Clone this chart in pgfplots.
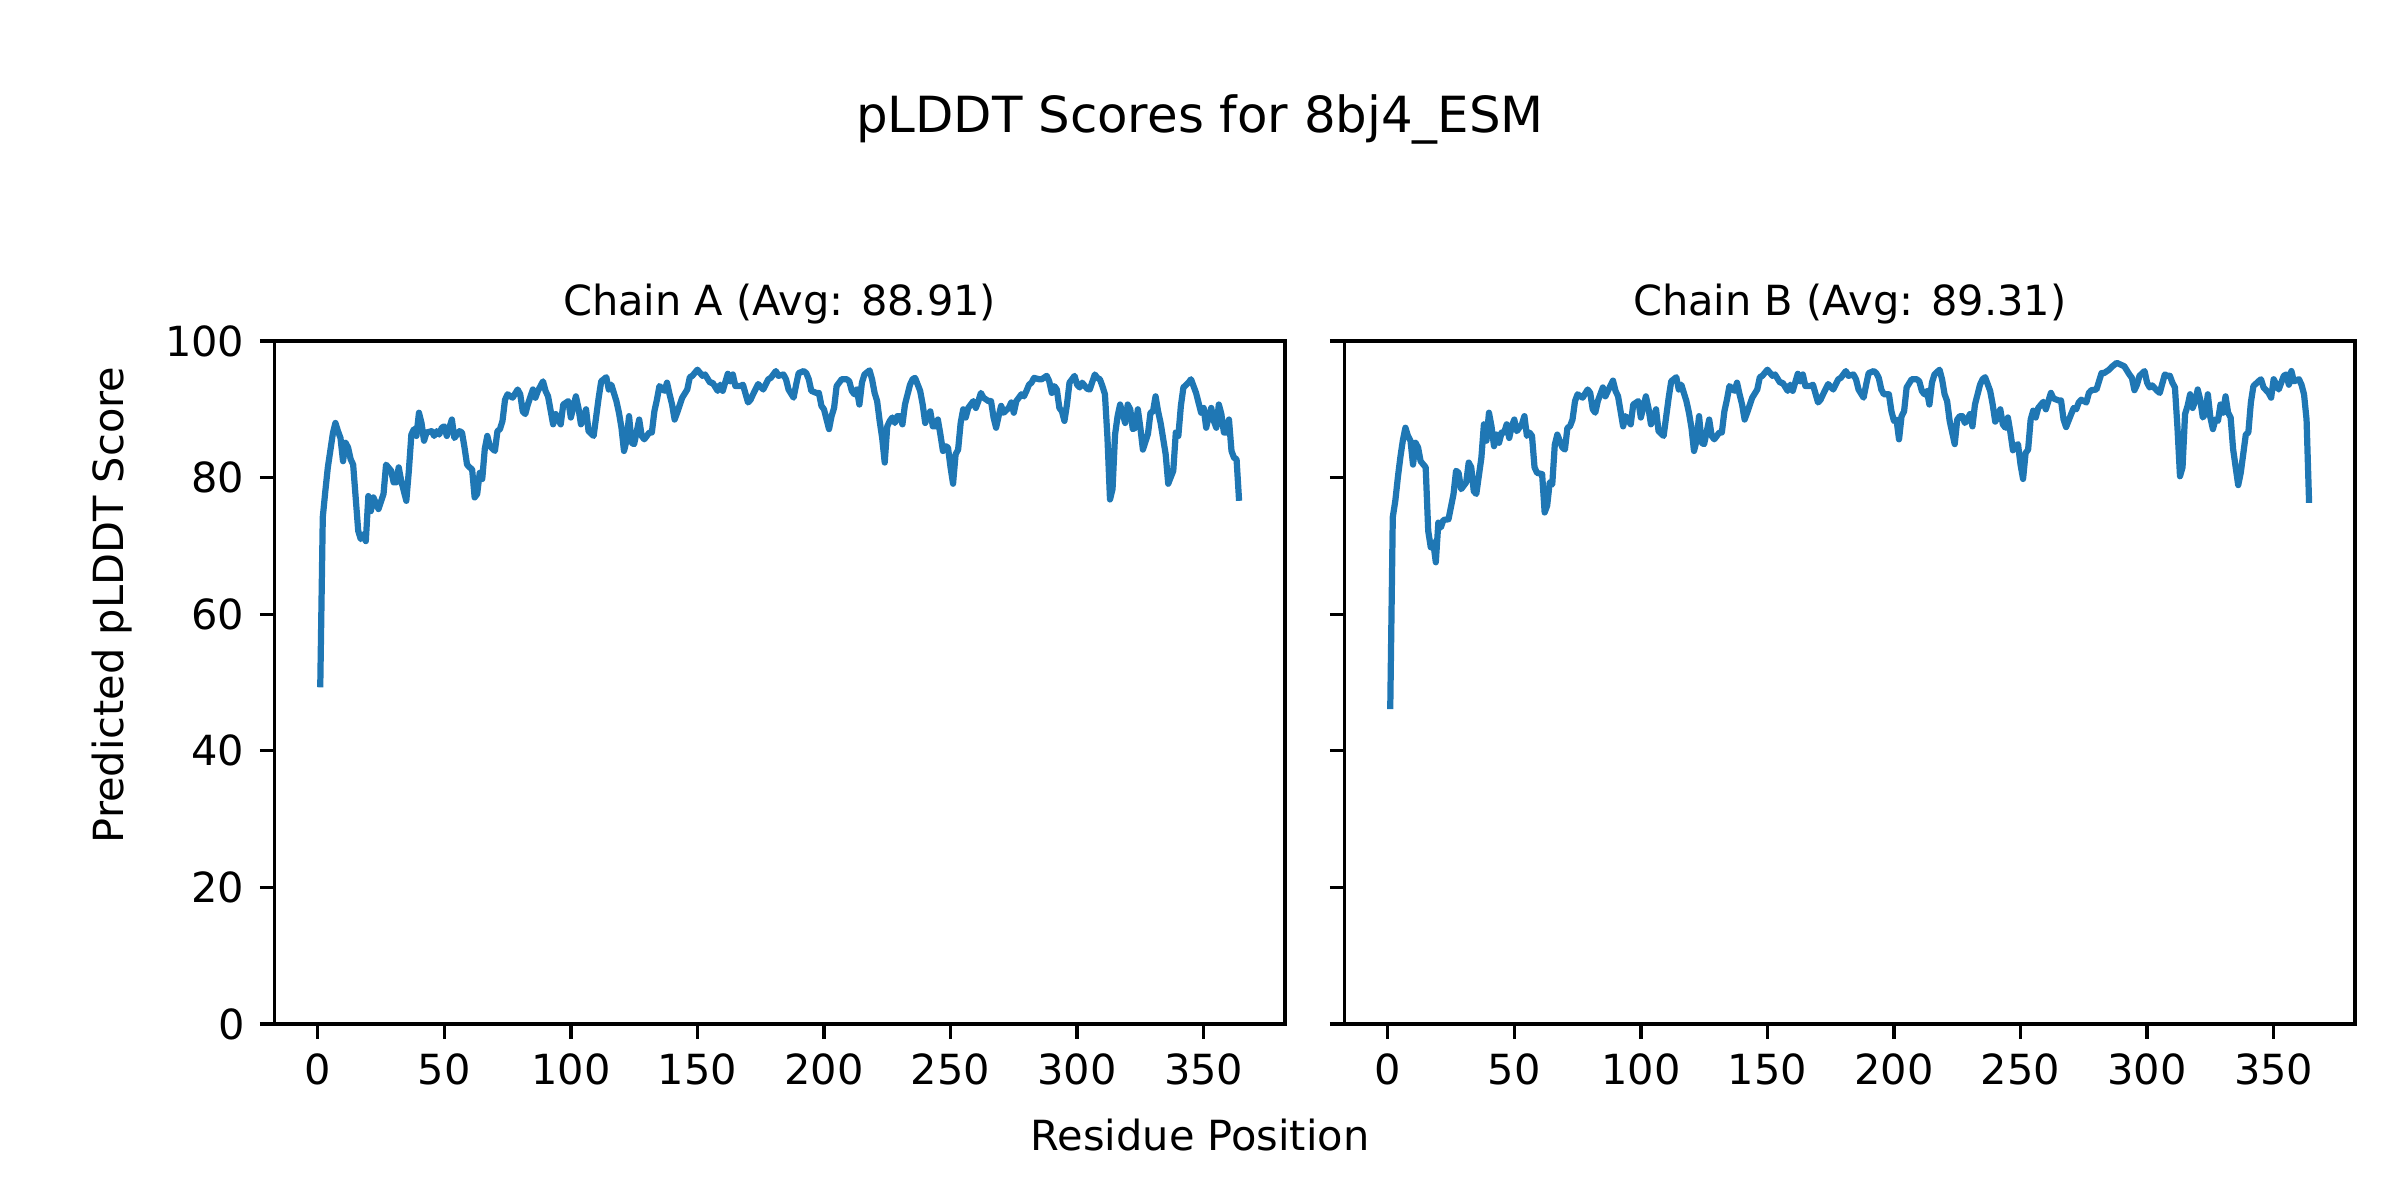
\documentclass[border=0pt]{standalone}
\usepackage{fontspec}
\setmainfont{DejaVu Sans}
\usepackage{pgfplots}
\pgfplotsset{compat=1.18}
\definecolor{mplblue}{HTML}{1F77B4}
\pgfplotsset{
  myaxis/.style={
    scale only axis, width=243.48pt, height=164.53pt,
    xmin=-17.15, xmax=382.15, ymin=0, ymax=100,
    xtick={0,50,...,350}, ytick={0,20,...,100},
    tick align=outside, major tick length=3.5pt,
    xtick pos=bottom, ytick pos=left,
    axis line style={line width=0.8pt},
    major tick style={black, line width=0.8pt},
    tick label style={font=\fontsize{10}{12}\selectfont, inner sep=0pt},
    /pgf/number format/assume math mode=true,
    xticklabel style={yshift=-3.5pt},
    yticklabel style={xshift=-3.5pt},
    anchor=south west,
  },
  myline/.style={color=mplblue, line width=1.5pt, line join=round, mark=none},
}
\begin{document}
\begin{tikzpicture}[x=0.2409pt,y=0.2409pt]
\path[use as bounding box] (0pt,0pt) rectangle (578.16pt,289.08pt);
\begin{axis}[myaxis, at={(66.08pt,42.40pt)}]
\addplot[myline] coordinates {
(1,49.3)(2,74.2)(3,78.0)(4,81.5)(5,84.0)(6,86.5)(7,88.0)(8,86.8)(9,85.8)(10,82.4)(11,85.1)(12,84.4)(13,82.7)(14,81.9)(16,72.2)(17,71.0)(18,71.7)(19,70.7)(20,77.3)(21,75.1)(22,77.1)(24,75.4)(26,77.6)(27,81.9)(29,81.0)(30,79.3)(31,79.3)(32,81.5)(33,79.5)(35,76.6)(36,81.0)(37,86.3)(38,87.1)(39,86.1)(40,89.5)(41,88.0)(42,85.4)(43,86.6)(45,86.8)(46,86.1)(47,86.8)(48,86.3)(49,87.3)(50,87.5)(51,86.1)(53,88.5)(54,85.8)(56,86.8)(57,86.6)(58,84.4)(59,81.9)(60,81.5)(61,81.2)(62,77.1)(63,77.6)(64,80.7)(65,79.8)(66,84.2)(67,86.1)(68,84.6)(70,83.9)(71,86.8)(72,87.1)(73,88.3)(74,91.4)(75,92.2)(77,91.7)(79,92.9)(80,92.2)
(81,89.7)(82,89.3)(83,90.7)(85,92.9)(86,91.7)(87,92.7)(89,94.1)(90,92.7)(91,91.9)(93,87.8)(94,89.3)(96,87.8)(97,90.7)(99,91.2)(100,88.8)(102,91.9)(103,90.2)(104,87.8)(106,90.0)(107,86.8)(109,86.1)(111,91.7)(112,94.1)(114,94.7)(115,92.9)(116,93.6)(118,91.2)(119,89.5)(120,87.3)(121,83.9)(122,85.4)(123,89.0)(124,85.1)(125,84.9)(127,88.5)(128,86.1)(129,85.6)(131,86.6)(132,86.6)(133,89.7)(134,91.4)(135,93.4)(137,92.7)(138,93.9)(139,92.2)(140,90.7)(141,88.5)(142,89.5)(144,91.7)(146,92.9)(147,94.7)(148,94.9)(150,95.8)(152,94.9)(153,95.1)(155,93.9)(156,93.9)(158,92.7)(159,93.6)(160,92.7)(162,95.2)(163,94.1)(164,95.1)(165,93.4)(167,93.4)(168,93.6)(170,91.0)(171,91.4)(172,92.2)(174,93.7)(176,92.9)(178,94.4)(179,94.6)(181,95.6)(182,94.9)(184,95.1)(185,94.4)(186,92.9)(188,91.7)(189,93.6)(190,95.3)(192,95.6)(193,95.3)(194,94.4)(195,92.7)(197,92.4)(198,92.4)(199,90.5)(200,90.0)(202,87.1)(203,89.0)(204,90.2)(205,93.4)(207,94.4)(209,94.4)(210,94.1)(211,92.7)(212,92.2)(213,92.9)(214,90.7)(215,93.9)(216,95.1)(218,95.7)(219,94.4)
(220,92.4)(221,91.2)(222,88.3)(223,85.8)(224,82.2)(225,87.5)(226,88.3)(227,88.8)(228,88.0)(229,89.0)(230,89.0)(231,87.8)(232,90.7)(234,93.6)(235,94.4)(236,94.6)(238,92.7)(239,90.7)(240,88.0)(241,89.0)(242,89.7)(243,87.5)(244,87.5)(245,88.5)(246,86.3)(247,83.9)(248,84.6)(249,84.4)(250,81.5)(251,79.1)(252,83.4)(253,84.1)(254,88.0)(255,90.0)(256,88.8)(257,90.2)(259,91.2)(260,90.2)(261,91.2)(262,92.4)(263,91.7)(265,91.2)(266,91.2)(267,88.8)(268,87.3)(269,89.0)(270,90.5)(271,89.5)(273,90.2)(274,91.0)(275,89.5)(276,91.2)(278,92.2)(279,91.9)(280,92.7)(281,93.6)(282,93.9)(283,94.6)(285,94.4)(286,94.4)(288,94.9)(289,94.1)(290,92.4)(291,93.4)(292,92.9)(293,90.2)(294,89.7)(295,88.3)(296,90.7)(297,93.9)(299,94.9)(300,93.6)(301,93.2)(302,93.9)(304,93.0)(305,92.9)(307,95.1)(308,94.6)(309,94.4)(310,93.4)(311,92.2)(312,85.8)(313,76.8)(314,78.3)(315,86.3)(316,89.0)(317,90.7)(318,89.3)(319,88.0)(320,90.7)(321,90.0)(322,87.1)(323,87.3)(324,90.0)(325,87.3)(326,84.1)(328,86.4)(329,89.5)(330,89.7)(331,91.9)(332,89.7)(333,88.0)(335,83.4)(336,79.1)(338,81.0)(339,86.6)(340,86.1)(341,90.5)(342,93.2)(344,93.9)(345,94.4)(346,93.4)(347,92.4)(349,89.5)(350,90.2)(351,87.3)(352,89.0)(353,90.2)(354,88.3)(355,87.3)(356,90.7)(357,89.3)(358,86.6)(359,86.6)(360,88.5)(361,83.9)(362,82.9)(363,82.7)(364,76.6)
};
\end{axis}
\begin{axis}[myaxis, at={(323.84pt,42.40pt)}, yticklabels={}]
\addplot[myline] coordinates {
(1,46.1)(2,74.2)(3,76.6)(4,80.0)(5,83.0)(6,85.5)(7,87.3)(8,86.1)(9,85.4)(10,81.9)(11,85.1)(12,84.4)(13,82.4)(15,81.5)(16,72.2)(17,69.8)(18,70.5)(19,67.6)(20,73.4)(21,72.7)(22,73.8)(24,73.9)(26,77.6)(27,81.0)(28,80.7)(29,78.3)(31,79.3)(32,82.2)(33,81.5)(34,78.0)(35,77.6)(37,82.9)(38,87.8)(39,85.4)(40,89.5)(41,87.5)(42,84.6)(43,86.3)(44,85.1)(45,86.6)(46,86.6)(47,87.8)(48,85.8)(49,87.5)(50,88.5)(51,86.8)(53,87.8)(54,89.0)(55,86.1)(56,86.6)(57,86.1)(58,81.5)(59,80.7)(61,80.5)(62,74.9)(63,75.9)(64,79.3)(65,79.0)(66,84.8)(67,86.3)(69,84.4)(70,84.1)(71,87.3)(72,87.5)(73,88.5)(74,91.2)(75,92.2)(77,91.7)(79,92.9)(80,92.4)
(81,90.0)(82,89.5)(83,91.2)(85,93.2)(86,91.9)(87,92.7)(89,94.2)(90,92.7)(91,91.9)(93,87.5)(94,89.0)(96,87.8)(97,90.7)(99,91.2)(100,88.8)(102,91.9)(103,90.2)(104,87.8)(106,90.0)(107,86.8)(109,86.1)(111,91.7)(112,94.1)(114,94.7)(115,92.9)(116,93.6)(118,91.2)(119,89.5)(120,87.3)(121,83.9)(122,85.4)(123,89.0)(124,85.1)(125,84.9)(127,88.5)(128,86.1)(129,85.6)(131,86.6)(132,86.6)(133,89.7)(134,91.4)(135,93.4)(137,92.7)(138,93.9)(139,92.2)(140,90.7)(141,88.5)(142,89.5)(144,91.7)(146,92.9)(147,94.7)(148,94.9)(150,95.8)(152,94.9)(153,95.1)(155,93.9)(156,93.9)(158,92.7)(159,93.6)(160,92.7)(162,95.2)(163,94.1)(164,95.1)(165,93.4)(167,93.4)(168,93.6)(170,91.0)(171,91.4)(172,92.2)(174,93.7)(176,92.9)(178,94.4)(179,94.6)(181,95.6)(182,94.9)(184,95.1)(185,94.4)(186,92.9)(188,91.7)(189,93.6)(190,95.3)(192,95.6)(193,95.3)(194,94.6)(195,92.9)(196,92.2)(198,92.2)(199,89.7)(200,88.3)(201,88.5)(202,85.6)(203,89.0)(204,89.7)(205,93.2)(207,94.4)(209,94.4)(210,94.1)(211,92.7)(212,92.2)(213,92.7)(214,90.7)(215,93.9)(216,95.1)(218,95.8)(219,94.4)
(220,92.2)(221,91.2)(222,88.3)(224,84.9)(225,88.5)(226,89.0)(227,89.0)(228,88.0)(229,88.5)(230,89.3)(231,87.5)(232,90.7)(234,93.6)(235,94.4)(236,94.7)(238,92.7)(239,90.7)(240,88.2)(241,88.8)(242,90.0)(243,87.8)(244,87.3)(245,88.8)(246,86.6)(247,84.0)(248,84.6)(249,84.9)(250,81.9)(251,79.8)(252,83.6)(253,84.1)(254,88.5)(255,89.8)(256,88.8)(257,90.2)(259,91.1)(260,90.0)(261,91.2)(262,92.4)(263,91.6)(265,91.3)(266,91.3)(267,88.5)(268,87.4)(270,89.3)(271,90.2)(272,90.0)(273,91.0)(274,91.4)(276,91.0)(277,92.4)(278,92.8)(280,92.9)(281,94.1)(282,95.3)(283,95.3)(285,95.8)(286,96.2)(288,96.8)(291,96.3)(293,95.1)(294,94.6)(295,92.8)(296,93.6)(297,94.9)(299,95.6)(300,93.9)(301,93.2)(302,93.5)(304,92.7)(305,92.4)(307,95.1)(308,94.9)(309,94.9)(310,93.9)(311,93.2)(312,87.3)(313,80.2)(314,81.5)(315,89.3)(316,90.5)(317,92.2)(318,90.2)(319,91.2)(320,92.9)(321,91.4)(322,88.8)(323,89.3)(324,92.2)(325,88.8)(326,87.1)(327,88.5)(328,88.3)(329,90.7)(330,89.5)(331,91.9)(332,89.5)(333,88.8)(334,84.1)(336,78.9)(337,80.7)(339,86.3)(340,86.6)(341,91.0)(342,93.4)(344,94.1)(345,94.4)(346,93.2)(348,92.4)(349,91.7)(350,94.4)(352,92.9)(354,94.9)(355,95.1)(356,93.6)(357,95.6)(358,94.1)(360,94.4)(361,93.6)(362,92.2)(363,88.5)(364,76.3)
};
\end{axis}
\node[font=\fontsize{12}{14.4}\selectfont, anchor=base] at (1200,1067) {pLDDT Scores for 8bj4\_ESM};
\node[font=\fontsize{10}{12}\selectfont, anchor=base] at (779.65,884) {Chain A (Avg: 88.91)};
\node[font=\fontsize{10}{12}\selectfont, anchor=base] at (1849.65,884) {Chain B (Avg: 89.31)};
\node[font=\fontsize{10}{12}\selectfont, anchor=base] at (1200,50) {Residue Position};
\node[font=\fontsize{10}{12}\selectfont, rotate=90, anchor=center] at (112,595) {Predicted pLDDT Score};
\end{tikzpicture}
\end{document}
